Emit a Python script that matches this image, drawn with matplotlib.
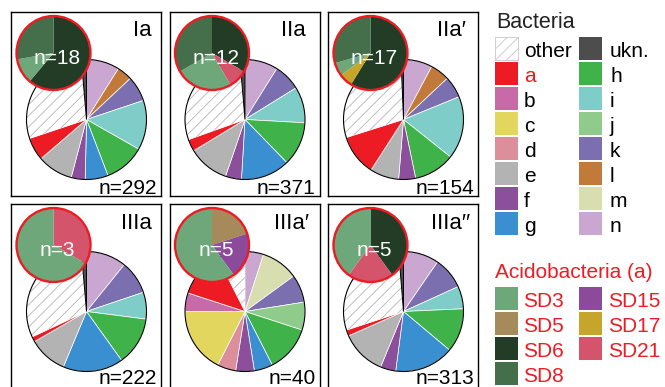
import matplotlib
matplotlib.use("Agg")
import matplotlib.pyplot as plt
from matplotlib.patches import Rectangle, Circle

plt.rcParams["font.family"] = ["Liberation Sans", "DejaVu Sans"]
plt.rcParams["hatch.linewidth"] = 0.6

# ---------------------------------------------------------------- data
sites = ["Ia", "IIa", "IIa\u2032", "IIIa", "IIIa\u2032", "IIIa\u2032\u2032"]

groups = ["other", "ukn.", "a", "b", "c", "d", "e", "f", "g",
          "h", "i", "j", "k", "l", "m", "n"]
group_colors = ["white", "#4d4d4d", "#ed1c24", "#c86aa8", "#e3d65e",
                "#dc8f9b", "#b3b3b3", "#8b4f9c", "#3a8fd0", "#3fb34a",
                "#7fcdc9", "#8fcb8a", "#7b6fb0", "#c27a3a", "#d8deb0",
                "#c9a7d1"]

#                other ukn  a  b  c  d   e   f   g   h   i  j   k   l  m   n
counts_Ia =     [84,   4, 18, 0, 0, 0, 28, 11, 18, 32, 39, 0, 20, 12, 0, 26]
counts_IIa =    [108,  5, 12, 0, 0, 0, 41, 16, 49, 44, 36, 0, 27,  0, 0, 33]
counts_IIa_p =  [45,   1, 17, 0, 0, 0, 12,  7,  0, 17, 26, 0,  9,  8, 0, 12]
counts_IIIa =   [68,   3,  3, 0, 0, 0, 23,  0, 36, 29, 16, 0, 20,  0, 0, 24]
counts_IIIa_p = [3,    0,  5, 2, 7, 2,  0,  2,  2,  5,  0, 3,  3,  0, 4,  2]
counts_IIIa_pp = [90,  4,  5, 0, 0, 0, 38, 13, 50, 37, 19, 0, 27,  0, 0, 30]

acido = ["SD3", "SD5", "SD6", "SD8", "SD15", "SD17", "SD21"]
acido_colors = ["#6ea779", "#a68a5c", "#233c25", "#456e4b",
                "#8b4a9a", "#c5a62b", "#d4546c"]

#                 SD3 SD5 SD6 SD8 SD15 SD17 SD21
acido_Ia =       [2,  0,  11,  5,  0,   0,   0]
acido_IIa =      [3,  0,   4,  4,  0,   0,   1]
acido_IIa_p =    [1,  0,  10,  5,  0,   1,   0]
acido_IIIa =     [2,  0,   0,  0,  0,   0,   1]
acido_IIIa_p =   [3,  1,   0,  0,  1,   0,   0]
acido_IIIa_pp =  [2,  0,   2,  0,  0,   0,   1]

site_counts = [counts_Ia, counts_IIa, counts_IIa_p,
               counts_IIIa, counts_IIIa_p, counts_IIIa_pp]
site_acido = [acido_Ia, acido_IIa, acido_IIa_p,
              acido_IIIa, acido_IIIa_p, acido_IIIa_pp]

# clockwise drawing order starting at 12 o'clock
pie_order = ["n", "m", "l", "k", "j", "i", "h", "g", "f", "e",
             "d", "c", "b", "a", "other", "ukn."]
inset_order = ["SD5", "SD6", "SD15", "SD17", "SD21", "SD3", "SD8"]

# ---------------------------------------------------------------- layout (pixels)
W, H = 665, 387
panel_x = [11, 169.5, 328]
panel_y = [12, 204]
PW, PH = 150, 184
title_x = [131, 124, 123, 125, 122.5, 123]
RED = "#ed1c24"

fig = plt.figure(figsize=(W / 100, H / 100), dpi=100)


def px_axes(x, y, w, h):
    return fig.add_axes([x / W, 1 - (y + h) / H, w / W, h / H])


gcolor = dict(zip(groups, group_colors))
acolor = dict(zip(acido, acido_colors))

for i, site in enumerate(sites):
    col, row = i % 3, i // 3
    ax = px_axes(panel_x[col], panel_y[row], PW, PH)

    # main pie
    cnt = dict(zip(groups, site_counts[i]))
    names = [g for g in pie_order if cnt[g] > 0]
    vals = [cnt[g] for g in names]
    cx, cy, r = 75.5, PH - 107.5, 60
    wedges, _ = ax.pie(vals, colors=[gcolor[g] for g in names],
                       startangle=90, counterclock=False,
                       center=(cx, cy), radius=r, frame=True,
                       wedgeprops=dict(edgecolor="white", linewidth=0.5,
                                       zorder=1))
    for w, name in zip(wedges, names):
        if name == "other":
            w.set_hatch("///")
            w.set_edgecolor("#b5b5b5")
            w.set_linewidth(0)
        elif name == "ukn.":
            w.set_edgecolor("black")
            w.set_linewidth(0.7)
    ax.add_patch(Circle((cx, cy), r, fill=False, edgecolor="black",
                        linewidth=0.8, zorder=2))

    # Acidobacteria inset
    acnt = dict(zip(acido, site_acido[i]))
    anames = [a for a in inset_order if acnt[a] > 0]
    avals = [acnt[a] for a in anames]
    icx, icy, ir = 42.5, PH - 41, 37
    ax.pie(avals, colors=[acolor[a] for a in anames],
           startangle=90, counterclock=False,
           center=(icx, icy), radius=ir, frame=True,
           wedgeprops=dict(linewidth=0, zorder=3))
    ax.add_patch(Circle((icx, icy), ir, fill=False, edgecolor=RED,
                        linewidth=1.7, zorder=4))
    ax.text(icx + 4, icy - 6, f"n={sum(avals)}", color="white",
            ha="center", va="center", fontsize=15, zorder=5)

    # labels
    ax.text(title_x[i], PH - 19, site, ha="center", va="center",
            fontsize=16, zorder=5)
    base_px = min(panel_y[row] + PH - 2.5, H - 3.5)
    ax.text(PW - 4, panel_y[row] + PH - base_px, f"n={sum(vals)}",
            ha="right", va="baseline", fontsize=15, zorder=5)

    ax.set_xlim(0, PW)
    ax.set_ylim(0, PH)
    ax.set_aspect("auto")
    ax.set_xticks([])
    ax.set_yticks([])
    ax.set_frame_on(True)
    for s in ax.spines.values():
        s.set_linewidth(1.0)
        s.set_color("black")

# ---------------------------------------------------------------- legend
lax = fig.add_axes([0, 0, 1, 1])
lax.set_xlim(0, W)
lax.set_ylim(H, 0)
lax.axis("off")

SW, SH = 23, 22.7
lax.text(496, 28, "Bacteria", fontsize=15.5, va="baseline", ha="left",
         color="#222222")
leg_cols = [["other", "a", "b", "c", "d", "e", "f", "g"],
            ["ukn.", "h", "i", "j", "k", "l", "m", "n"]]
for c, (sx, tx) in enumerate([(495, 524), (579, 610)]):
    for k, name in enumerate(leg_cols[c]):
        top = 37.3 + 25 * k
        if name == "other":
            lax.add_patch(Rectangle((sx, top), SW, SH, facecolor="white",
                                    edgecolor="#c8c8c8", linewidth=0.6,
                                    hatch="///"))
        else:
            lax.add_patch(Rectangle((sx, top), SW, SH,
                                    facecolor=gcolor[name], linewidth=0))
        lax.text(tx, top + 19.5, name, fontsize=15, va="baseline",
                 ha="left", color=RED if name == "a" else "black")

lax.text(495, 278.3, "Acidobacteria (a)", fontsize=15, va="baseline",
         ha="left", color=RED)
acido_cols = [["SD3", "SD5", "SD6", "SD8"], ["SD15", "SD17", "SD21"]]
for c, (sx, tx) in enumerate([(495, 523.5), (579, 608)]):
    for k, name in enumerate(acido_cols[c]):
        top = 287.3 + 25 * k
        lax.add_patch(Rectangle((sx, top), SW, SH,
                                facecolor=acolor[name], linewidth=0))
        lax.text(tx, top + 19.5, name, fontsize=15, va="baseline",
                 ha="left", color=RED)

fig.savefig("out.png", dpi=100)
